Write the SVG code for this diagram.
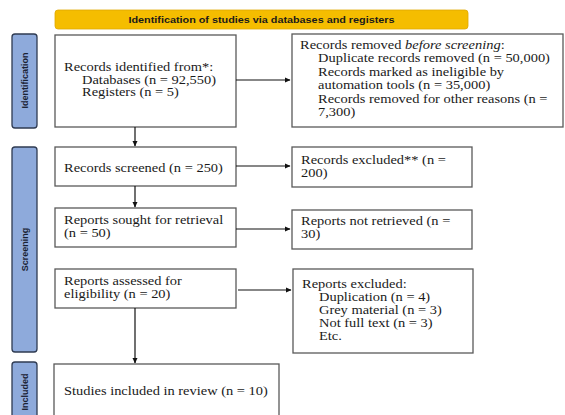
<svg xmlns="http://www.w3.org/2000/svg" width="565" height="415" viewBox="0 0 565 415">
<style>
.box{fill:#fff;stroke:#595959;stroke-width:1.3}
.tab{fill:#8eaadb;stroke:#2f3b52;stroke-width:1.3}
.t{font-family:"Liberation Serif","Times New Roman",serif;font-size:12.5px;fill:#1a1a1a}
.tl{font-family:"Liberation Sans",Arial,sans-serif;font-weight:bold;font-size:9px;fill:#1a2233}
.ban{font-family:"Liberation Sans",Arial,sans-serif;font-weight:bold;font-size:9.5px;fill:#1a1a1a}
.c{stroke:#111;stroke-width:1.2;fill:none;marker-end:url(#ah)}
</style>
<defs>
<marker id="ah" markerWidth="6" markerHeight="6" refX="5" refY="3" orient="auto" markerUnits="userSpaceOnUse">
<path d="M0,0.5 L5.5,3 L0,5.5 Z" fill="#111"/>
</marker>
</defs>
<rect width="565" height="415" fill="#fff"/>
<g id="banner">
<rect x="55" y="10" width="413" height="19" rx="3" fill="#f5bd00" stroke="#e0a800" stroke-width="0.8"/>
<text class="ban" x="261.5" y="23" text-anchor="middle" textLength="266" lengthAdjust="spacingAndGlyphs">Identification of studies via databases and registers</text>
</g>
<g id="tab-identification">
<rect class="tab" x="12" y="34" width="25" height="94" rx="3"/>
<text class="tl" transform="translate(28,80.5) rotate(-90)" text-anchor="middle">Identification</text>
</g>
<g id="tab-screening">
<rect class="tab" x="12" y="147" width="25" height="205" rx="3"/>
<text class="tl" transform="translate(28,249.5) rotate(-90)" text-anchor="middle">Screening</text>
</g>
<g id="tab-included">
<rect class="tab" x="12" y="362" width="25" height="60" rx="3"/>
<text class="tl" transform="translate(28,392) rotate(-90)" text-anchor="middle">Included</text>
</g>
<g id="n-identified">
<rect class="box" x="55" y="35" width="181" height="92"/>
<g transform="translate(64,0) scale(1.156,1)">
<text class="t" x="0" y="71.5">Records identified from*:</text>
<text class="t" x="15.6" y="84">Databases (n = 92,550)</text>
<text class="t" x="15.6" y="96.5">Registers (n = 5)</text>
</g>
</g>
<g id="n-removed">
<rect class="box" x="292" y="34" width="271" height="93"/>
<g transform="translate(300,0) scale(1.156,1)">
<text class="t" x="0" y="49">Records removed <tspan font-style="italic">before screening</tspan>:</text>
<text class="t" x="15.6" y="62.5">Duplicate records removed (n = 50,000)</text>
<text class="t" x="15.6" y="76">Records marked as ineligible by</text>
<text class="t" x="15.6" y="89.5">automation tools (n = 35,000)</text>
<text class="t" x="15.6" y="103">Records removed for other reasons (n =</text>
<text class="t" x="15.6" y="116.5">7,300)</text>
</g>
</g>
<g id="n-screened">
<rect class="box" x="55" y="147" width="181" height="39"/>
<text class="t" transform="translate(64,171.5) scale(1.156,1)">Records screened (n = 250)</text>
</g>
<g id="n-excluded">
<rect class="box" x="292" y="147" width="180" height="40"/>
<g transform="translate(301,0) scale(1.156,1)">
<text class="t" x="0" y="164">Records excluded** (n =</text>
<text class="t" x="0" y="177.5">200)</text>
</g>
</g>
<g id="n-sought">
<rect class="box" x="55" y="208" width="181" height="39"/>
<g transform="translate(64,0) scale(1.156,1)">
<text class="t" x="0" y="224">Reports sought for retrieval</text>
<text class="t" x="0" y="237.5">(n = 50)</text>
</g>
</g>
<g id="n-notretrieved">
<rect class="box" x="292" y="210" width="180" height="39"/>
<g transform="translate(301,0) scale(1.156,1)">
<text class="t" x="0" y="225">Reports not retrieved (n =</text>
<text class="t" x="0" y="238.5">30)</text>
</g>
</g>
<g id="n-assessed">
<rect class="box" x="55" y="269" width="181" height="39"/>
<g transform="translate(64,0) scale(1.156,1)">
<text class="t" x="0" y="285">Reports assessed for</text>
<text class="t" x="0" y="298.5">eligibility (n = 20)</text>
</g>
</g>
<g id="n-repexcluded">
<rect class="box" x="293" y="269" width="180" height="84"/>
<g transform="translate(302,0) scale(1.156,1)">
<text class="t" x="0" y="288">Reports excluded:</text>
<text class="t" x="14.7" y="301">Duplication (n = 4)</text>
<text class="t" x="14.7" y="314">Grey material (n = 3)</text>
<text class="t" x="14.7" y="327">Not full text (n = 3)</text>
<text class="t" x="14.7" y="340">Etc.</text>
</g>
</g>
<g id="n-included">
<rect class="box" x="54" y="364" width="225" height="60"/>
<text class="t" transform="translate(64,395) scale(1.156,1)">Studies included in review (n = 10)</text>
</g>
<g id="connectors">
<line class="c" x1="236" y1="80" x2="290" y2="80"/>
<line class="c" x1="135" y1="127" x2="135" y2="146"/>
<line class="c" x1="236" y1="166" x2="290" y2="166"/>
<line class="c" x1="135" y1="186" x2="135" y2="207"/>
<line class="c" x1="236" y1="229" x2="290" y2="229"/>
<line class="c" x1="238" y1="290" x2="291" y2="290"/>
<line class="c" x1="135" y1="308" x2="135" y2="363"/>
</g>
</svg>
